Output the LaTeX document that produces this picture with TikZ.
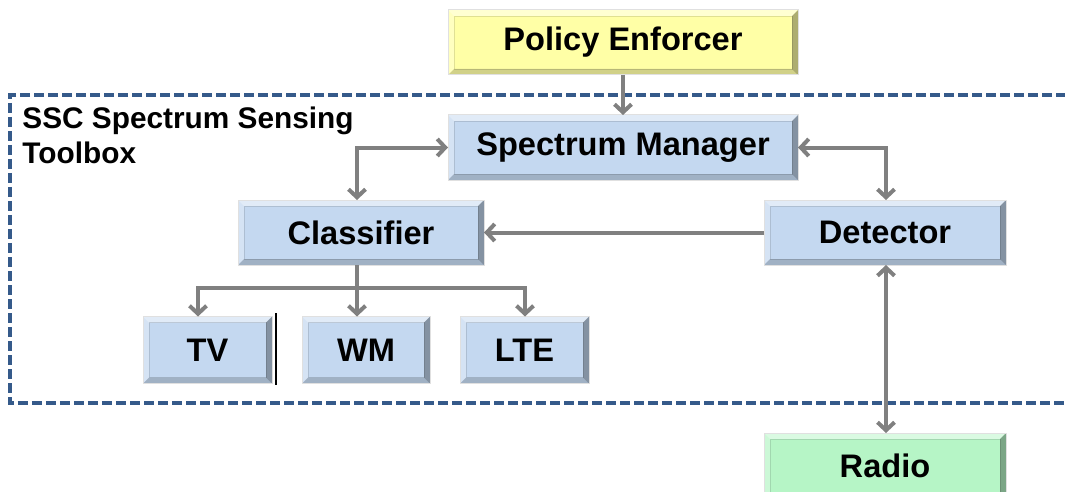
\documentclass[tikz,border=0pt]{standalone}
\usepackage{fontspec}
\setmainfont{Liberation Sans}
\usetikzlibrary{arrows.meta,calc}
\definecolor{boxblue}{HTML}{C4D8F0}
\definecolor{boxyellow}{HTML}{FFFFA6}
\definecolor{boxgreen}{HTML}{B6F5C6}
\definecolor{dashblue}{HTML}{355A8A}
\definecolor{arrgray}{HTML}{808080}
\tikzset{
  bevel/.style={path picture={
    \path (path picture bounding box.north west) coordinate (pnw)
          (path picture bounding box.north east) coordinate (pne)
          (path picture bounding box.south west) coordinate (psw)
          (path picture bounding box.south east) coordinate (pse);
    \fill[white,opacity=0.5] (pnw) -- (pne) -- ([shift={(-3pt,-3pt)}]pne) -- ([shift={(3pt,-3pt)}]pnw) -- cycle;
    \fill[white,opacity=0.3] (pnw) -- ([shift={(3pt,-3pt)}]pnw) -- ([shift={(3pt,3pt)}]psw) -- (psw) -- cycle;
    \fill[black,opacity=0.32] (pne) -- (pse) -- ([shift={(-3pt,3pt)}]pse) -- ([shift={(-3pt,-3pt)}]pne) -- cycle;
    \fill[black,opacity=0.18] (psw) -- (pse) -- ([shift={(-3pt,3pt)}]pse) -- ([shift={(3pt,3pt)}]psw) -- cycle;
    \draw[black,opacity=0.12,line width=0.4pt] ([shift={(3pt,-3pt)}]pnw) rectangle ([shift={(-3pt,3pt)}]pse);
  }},
  block/.style={bevel, fill=#1, draw=black!12, line width=0.5pt, inner sep=0pt, outer sep=0pt,
    font=\fontsize{16.3pt}{19pt}\selectfont\bfseries, text=black},
  conn/.style={draw=arrgray, line width=2pt},
  arr/.style={conn, -{Straight Barb[length=4pt,width=8.5pt,line width=2pt]}},
  arrs/.style={conn, {Straight Barb[length=4pt,width=8.5pt,line width=2pt]}-{Straight Barb[length=4pt,width=8.5pt,line width=2pt]}},
}
\begin{document}
\begin{tikzpicture}[x=0.5pt,y=-0.5pt]
\useasboundingbox (0,0) rectangle (1065,492);
\clip (0,0) rectangle (1065,492);

% toolbox frame
\draw[dashblue, line width=1.6pt, dash pattern=on 5pt off 2pt] (1080,95) -- (10,95) -- (10,403) -- (1080,403);
\node[anchor=base west, inner sep=0pt, align=left, font=\fontsize{14.9pt}{17.5pt}\selectfont\bfseries] (title) at (22,163.5) {SSC Spectrum Sensing\\Toolbox};

% blocks
\node[block=boxyellow, minimum width=175pt, minimum height=32.5pt] (pe) at (623,42.5) {Policy Enforcer};
\node[block=boxblue, minimum width=175pt, minimum height=32.5pt] (sm) at (623,147.5) {Spectrum Manager};
\node[block=boxblue, minimum width=123pt, minimum height=32.5pt] (cl) at (361,232.5) {Classifier};
\node[block=boxblue, minimum width=121pt, minimum height=32.5pt] (det) at (885,232.5) {Detector};
\node[block=boxblue, minimum width=64.5pt, minimum height=33.5pt] (tv) at (207.5,350) {TV};
\node[block=boxblue, minimum width=64pt, minimum height=33.5pt] (wm) at (366,350) {WM};
\node[block=boxblue, minimum width=64.5pt, minimum height=33.5pt] (lte) at (524.5,350) {LTE};
\node[block=boxgreen, minimum width=121pt, minimum height=32.5pt] (ra) at (885,465.5) {Radio};

% guide coordinates
\coordinate (clx) at (357,0);
\coordinate (tvx) at (198,0);
\coordinate (ltex) at (525,0);
\coordinate (rx) at (886,0);
\coordinate (bus) at (357,288);

% connectors
\draw[arr] (pe.south) -- (sm.north);
\draw[arrs] (cl.north -| clx) |- (sm.west);
\draw[arrs] (sm.east) -| (det.north -| rx);
\draw[arr] (det.west) -- (cl.east);
\draw[conn] (cl.south -| clx) -- (bus);
\draw[arr] (bus) -- (wm.north -| clx);
\draw[arr] (bus) -| (tv.north -| tvx);
\draw[arr] (bus) -| (lte.north -| ltex);
\draw[arrs] (det.south -| rx) -- (ra.north -| rx);

% thin black mark
\draw[black, line width=0.8pt] (276,313) -- (276,385);
\end{tikzpicture}
\end{document}
